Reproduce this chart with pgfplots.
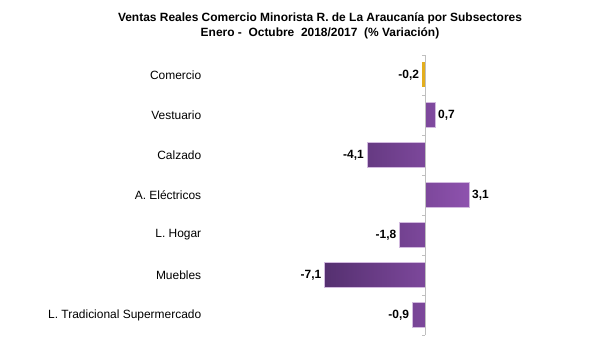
\documentclass[border=0pt]{standalone}
\usepackage{pgfplots}
\pgfplotsset{compat=1.18}
\usepackage{fontspec}
\setmainfont{Liberation Sans}
\definecolor{purpD}{HTML}{553070}
\definecolor{purpL}{HTML}{8E52AE}
\definecolor{goldC}{HTML}{E3AE1E}
\begin{document}
\begin{tikzpicture}
\path[use as bounding box] (0,0) rectangle (603bp,351bp);
\node[font=\bfseries\fontsize{12}{15}\selectfont, align=center] at (320bp,325bp)
 {Ventas Reales Comercio Minorista R. de La Araucanía por Subsectores\\Enero -\ \ Octubre\ \ 2018/2017\ \ (\% Variación)};
\begin{axis}[
  at={(304.75bp,296bp)}, anchor=north west,
  scale only axis, width=183.95bp, height=280bp,
  xmin=-8.5, xmax=4.5, ymin=-0.5, ymax=6.5, y dir=reverse,
  axis line style={draw=none},
  xtick=\empty,
  ytick={0,...,6}, major tick length=0pt,
  yticklabels={Comercio,Vestuario,Calzado,A. Eléctricos,L. Hogar,Muebles,L. Tradicional Supermercado},
  yticklabel style={font=\fontsize{12}{14}\selectfont, anchor=east, xshift=-100bp},
  bar width=25bp,
  point meta=x,
  nodes near coords,
  every node near coord/.append style={font=\bfseries\fontsize{12}{14}\selectfont, inner sep=3bp,
     /pgf/number format/.cd, use comma, fixed, fixed zerofill, precision=1, assume math mode=true},
  clip=false,
]
\addplot[xbar, draw=none, fill=goldC] coordinates {(-0.2,0)};
\addplot[xbar, draw=purpL!40, line width=0.5pt, shading=axis, left color=purpD, right color=purpL]
 coordinates {(0.7,1) (-4.1,2) (3.1,3) (-1.8,4) (-7.1,5) (-0.9,6)};
\draw[gray!50, line width=0.8pt] (axis cs:0,-0.5) -- (axis cs:0,6.5);
\pgfplotsinvokeforeach{-0.5,0.5,1.5,2.5,3.5,4.5,5.5,6.5}{
  \draw[gray!50, line width=0.6pt] (axis cs:0,#1) -- ([xshift=-3bp]axis cs:0,#1);
}
\end{axis}
\end{tikzpicture}
\end{document}
